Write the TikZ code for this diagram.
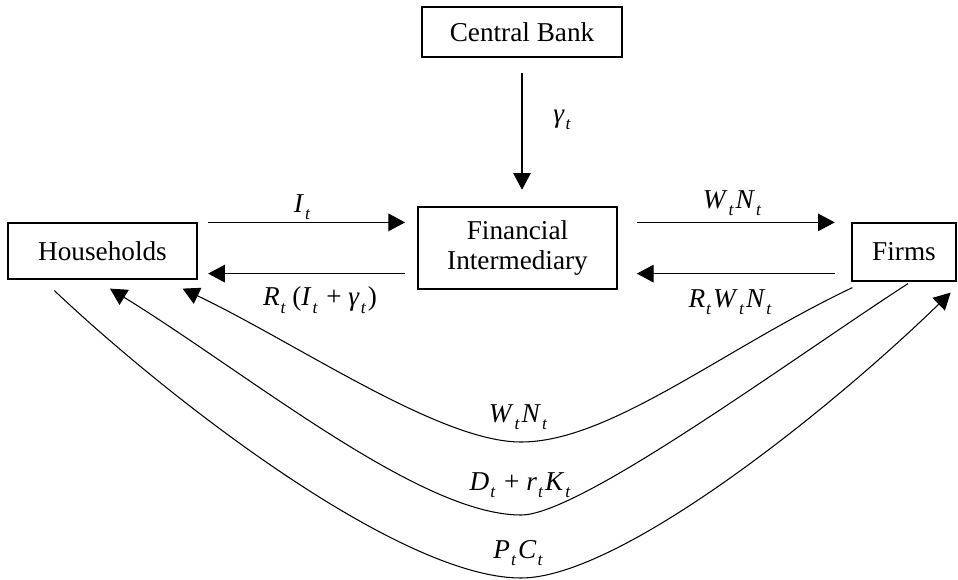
\documentclass[tikz,border=0pt]{standalone}
\usepackage{fontspec}
\setmainfont{Liberation Serif}
\usetikzlibrary{arrows.meta,calc}
\newcommand{\vt}[1]{\textit{#1}\kern0.6pt\raisebox{-0.6ex}{\fontsize{10}{10}\selectfont\textit{t}}\kern1pt\relax}

\begin{document}
\begin{tikzpicture}[
    x=0.02cm, y=-0.02cm,
    every node/.style={align=center, font=\fontsize{15.5}{17}\selectfont},
    box/.style={rectangle, draw, line width=0.7pt, inner sep=0pt},
    lbl/.style={inner sep=0pt},
    flow/.style={-{Triangle[length=9.5pt,width=10pt]}, line width=0.6pt}
]
\useasboundingbox (0,0) rectangle (958,579);

% Nodes
\node[box, minimum width=4cm, minimum height=1cm] (cb) at (522,32) {Central Bank};
\node[box, minimum width=3.98cm, minimum height=1.64cm] (fi) at (517.5,248) {Financial\\Intermediary};
\node[box, minimum width=3.78cm, minimum height=1.12cm] (hh) at (102.5,251) {Households};
\node[box, minimum width=2.08cm, minimum height=1.16cm] (firms) at (904,252) {Firms};

\coordinate (wnLow) at (521,442);
\coordinate (drLow) at (521,515);
\coordinate (pcLow) at (521,578);

% Labels
\node[lbl] (gam) at (563,120) {\vt{γ}};
\node[lbl] (inv) at (303,207) {\vt{I}};
\node[lbl] (ret) at (320,300) {\vt{R}\,(\vt{I} + \vt{γ})};
\node[lbl] (wage) at (733,203) {\vt{W}\vt{N}};
\node[lbl] (loan) at (731,302) {\vt{R}\vt{W}\vt{N}};
\node[lbl] (wn) at (519,417) {\vt{W}\vt{N}};
\node[lbl] (dr) at (521,485) {\vt{D} + \vt{r}\vt{K}};
\node[lbl] (pc) at (519,553) {\vt{P}\vt{C}};

% Arrows
\draw[flow, shorten <=9pt, shorten >=9.5pt] (cb.south) -- (cb.south |- fi.north);
\draw[flow, shorten <=6pt, shorten >=7pt] (hh.north east) -- (hh.north east -| fi.west);
\draw[flow, shorten <=7pt, shorten >=6pt] ($(hh.south east -| fi.west)+(0,-6)$) -- ($(hh.south east)+(0,-6)$);
\draw[flow, shorten <=11pt, shorten >=9.5pt] (fi.east |- firms.north) -- (firms.north west);
\draw[flow, shorten <=9.5pt, shorten >=11pt] ($(firms.south west)+(0,-8)$) -- ($(firms.south west -| fi.east)+(0,-8)$);

% Curves
\draw[flow] ($(firms.south west)+(1,6)$) .. controls (723,349) and (610,442) .. (wnLow)
    .. controls (440,442) and (300,345) .. ($(hh.south east)+(-15,9)$);
\draw[flow] ($(firms.south)+(4,2)$) .. controls (790,360) and (580,515) .. (drLow)
    .. controls (420,515) and (250,375) .. ($(hh.south)+(7.5,9)$);
\draw[flow] ($(hh.south west)+(47,11)$) .. controls (170,400) and (400,578) .. (pcLow)
    .. controls (620,578) and (830,410) .. ($(firms.south east)+(-6,11)$);

\end{tikzpicture}
\end{document}
